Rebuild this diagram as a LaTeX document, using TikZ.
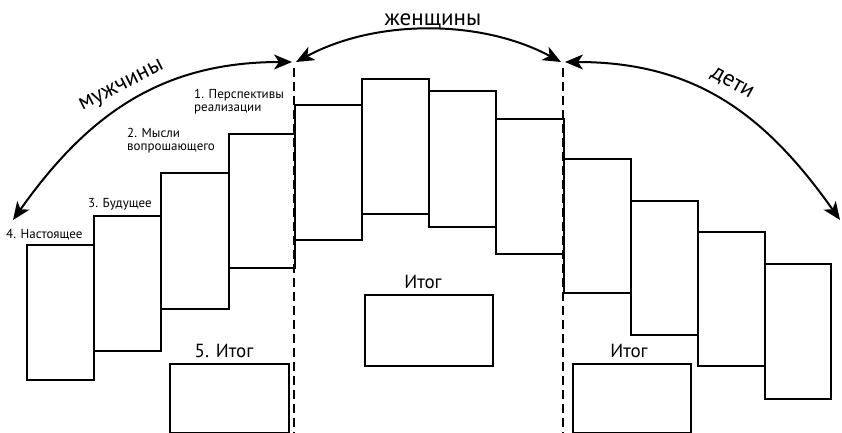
\documentclass[tikz,border=0pt]{standalone}
\usepackage{fontspec}
\setmainfont{PT Sans}
\usetikzlibrary{arrows.meta}
\begin{document}
\begin{tikzpicture}[x=1pt,y=-1pt,
  stepbox/.style={draw, line width=2.2pt, anchor=north west, inner sep=0pt, minimum width=67pt, minimum height=135pt},
  resbox/.style={draw, line width=2.2pt, anchor=north west, inner sep=0pt},
  bigarc/.style={line width=2pt, {Stealth[length=18pt,width=15pt,inset=5pt]}-{Stealth[length=18pt,width=15pt,inset=5pt]}},
  divider/.style={line width=2pt, dash pattern=on 9pt off 5pt},
  small/.style={font=\fontsize{13}{12.5}\selectfont, align=left, inner sep=0pt, anchor=base west},
  group/.style={font=\fontsize{23}{24}\selectfont, inner sep=0pt},
  restitle/.style={font=\fontsize{19}{20}\selectfont, inner sep=0pt, anchor=base}]
\useasboundingbox (0,0) rectangle (842,433);
% dashed dividers
\coordinate (d1t) at (294,68); \coordinate (d1b) at (294,433);
\coordinate (d2t) at (563,68); \coordinate (d2b) at (563,433);
\draw[divider] (d1t) -- (d1b);
\draw[divider] (d2t) -- (d2b);
% step boxes
\node[stepbox] (r1) at (26,244) {};
\node[stepbox] (r2) at (93,215) {};
\node[stepbox, minimum width=68pt, minimum height=136pt] (r3) at (160,172) {};
\node[stepbox, minimum width=66pt, minimum height=134pt] (r4) at (228,133) {};
\node[stepbox] (r5) at (294,104) {};
\node[stepbox] (r6) at (361,78) {};
\node[stepbox, minimum height=136pt] (r7) at (428,90) {};
\node[stepbox, minimum width=68pt] (r8) at (495,118) {};
\node[stepbox, minimum height=134pt] (r9) at (563,158) {};
\node[stepbox, minimum height=134pt] (r10) at (630,200) {};
\node[stepbox, minimum height=134pt] (r11) at (697,231) {};
\node[stepbox, minimum width=66pt] (r12) at (764,263) {};
% result boxes
\node[resbox, minimum width=119pt, minimum height=69pt] (b1) at (169,363) {};
\node[resbox, minimum width=128pt, minimum height=71pt] (b2) at (364,294) {};
\node[resbox, minimum width=118pt, minimum height=69pt] (b3) at (572,363) {};
\node[restitle] (t1) at (224,357) {5. Итог};
\node[restitle] (t2) at (423,288) {Итог};
\node[restitle] (t3) at (629,357) {Итог};
% step labels
\node[small] (l1) at (194,111) {1. Перспективы\\реализации};
\node[small] (l2) at (127,150) {2. Мысли\\вопрошающего};
\node[small] (l3) at (88,207) {3. Будущее};
\node[small] (l4) at (6,238) {4. Настоящее};
% arcs
\coordinate (aL) at (13,220);
\coordinate (aM1) at (292,62);
\coordinate (aM2) at (296,62);
\coordinate (aN1) at (561,62);
\coordinate (aN2) at (565,62);
\coordinate (aR) at (840,220);
\draw[bigarc] (aL) .. controls (88,114) and (162,62) .. (aM1);
\draw[bigarc] (aM2) .. controls (376,19) and (481,19) .. (aN1);
\draw[bigarc] (aN2) .. controls (695,62) and (765,114) .. (aR);
% group labels
\node[group, rotate=27] (g1) at (122,87) {мужчины};
\node[group, anchor=base] (g2) at (433,26) {женщины};
\node[group, rotate=-29] (g3) at (732,84) {дети};
\end{tikzpicture}
\end{document}
